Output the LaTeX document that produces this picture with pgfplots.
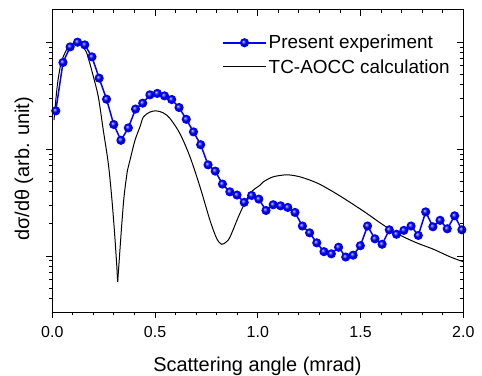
\documentclass[border=0pt]{standalone}
\usepackage{fontspec}
\setmainfont{Liberation Sans}
\usepackage{pgfplots}
\pgfplotsset{compat=1.18}
\pgfplotsset{
  myaxis/.style={
    scale only axis, width=411bp, height=302bp,
    xmin=0, xmax=2, ymin=0.003, ymax=2,
    xtick={0,0.5,1,1.5,2},
    minor xtick={0.1,0.2,0.3,0.4,0.6,0.7,0.8,0.9,1.1,1.2,1.3,1.4,1.6,1.7,1.8,1.9},
    ytick={0.01,0.1,1},
    minor ytick={0.004,0.005,0.006,0.007,0.008,0.009,0.02,0.03,0.04,0.05,0.06,0.07,0.08,0.09,0.2,0.3,0.4,0.5,0.6,0.7,0.8,0.9},
    yticklabels={},
    major tick length=6bp, minor tick length=3.5bp,
    axis line style={line width=1bp},
    every tick/.style={black, line width=1bp},
  }
}
\begin{document}
\begin{tikzpicture}
\begin{semilogyaxis}[
  myaxis, name=ax,
  tick align=outside, xtick pos=left, ytick pos=left,
  /pgf/number format/assume math mode=true,
  xticklabel style={/pgf/number format/fixed, /pgf/number format/fixed zerofill, /pgf/number format/precision=1, font=\fontsize{16}{19}\selectfont, yshift=-5bp},
  xlabel={Scattering angle (mrad)},
  ylabel={dσ/dθ (arb. unit)},
  label style={font=\fontsize{20}{24}\selectfont},
  xlabel style={at={(axis description cs:0.499,-0.181)}, anchor=center},
  ylabel style={at={(axis description cs:-0.0689,0.474)}, anchor=center},
  legend style={draw=none, fill=none, at={(axis description cs:0.413,0.924)}, anchor=north west,
    font=\fontsize{19}{22}\selectfont, row sep=5bp, inner sep=0pt},
  legend cell align=left,
  legend image code/.code={\draw[mark repeat=2, mark phase=2, #1] plot coordinates {(0bp,0bp) (21.5bp,0bp) (43bp,0bp)};},
]
\addplot[blue, line width=1.5bp, mark=ball, mark size=3.8bp, mark options={ball color=blue}] coordinates {
(0.017,0.228) (0.052,0.646) (0.087,0.904) (0.123,1.0) (0.158,0.944)
(0.193,0.729) (0.228,0.461) (0.264,0.293) (0.299,0.170) (0.334,0.121)
(0.370,0.158) (0.405,0.237) (0.440,0.269) (0.475,0.322) (0.511,0.332)
(0.546,0.315) (0.581,0.291) (0.617,0.245) (0.652,0.190) (0.687,0.145)
(0.722,0.110) (0.758,0.0713) (0.793,0.0623) (0.828,0.0471) (0.864,0.0399)
(0.899,0.0372) (0.934,0.0318) (0.970,0.0369) (1.005,0.0341) (1.040,0.0267)
(1.075,0.0302) (1.111,0.0295) (1.146,0.0285) (1.181,0.0256) (1.217,0.0191)
(1.252,0.0165) (1.287,0.0133) (1.322,0.0110) (1.358,0.0105) (1.393,0.0121)
(1.428,0.0098) (1.464,0.0102) (1.499,0.0125) (1.534,0.0191) (1.570,0.0145)
(1.605,0.0129) (1.640,0.0176) (1.675,0.0160) (1.711,0.0174) (1.746,0.0191)
(1.781,0.0156) (1.817,0.0259) (1.852,0.0188) (1.887,0.0216) (1.922,0.0180)
(1.958,0.0238) (1.993,0.0176)
};
\addlegendentry{Present experiment}
\addplot[black, line width=1bp, smooth] coordinates {
(0.0083,0.187) (0.018,0.300) (0.0277,0.441) (0.0438,0.650) (0.0681,0.842)
(0.0861,0.938) (0.109,0.985) (0.130,0.968) (0.148,0.904) (0.166,0.807)
(0.181,0.650) (0.198,0.492) (0.224,0.308) (0.248,0.151) (0.2725,0.0735)
(0.289,0.0358) (0.302,0.0175) (0.313,0.00855) (0.318,0.00575)
};
\addlegendentry{TC-AOCC calculation}
\addplot[black, line width=1bp, smooth, forget plot] coordinates {
(0.318,0.00575) (0.3246,0.00855) (0.336,0.0175) (0.349,0.0358) (0.366,0.0637)
(0.378,0.0789) (0.4024,0.121) (0.4268,0.162) (0.443,0.200) (0.475,0.222)
(0.5046,0.228) (0.5387,0.219) (0.5723,0.194) (0.621,0.140) (0.670,0.0848)
(0.7188,0.0444) (0.767,0.0217) (0.800,0.0146) (0.824,0.0129) (0.845,0.0135)
(0.865,0.0151) (0.913,0.0251) (0.962,0.0385) (1.011,0.0461) (1.027,0.0495)
(1.075,0.0551) (1.141,0.0575) (1.205,0.0551) (1.287,0.0484) (1.367,0.0399)
(1.449,0.0318) (1.530,0.0251) (1.611,0.0195) (1.692,0.0157) (1.773,0.0133)
(1.854,0.0116) (1.935,0.00985) (2.0,0.00885)
};
\end{semilogyaxis}
\begin{semilogyaxis}[
  myaxis, at={(ax.south west)}, anchor=south west,
  tick align=inside, xtick pos=right, ytick pos=right,
  xticklabels={},
]
\end{semilogyaxis}
\pgfresetboundingbox
\path[use as bounding box] ([shift={(-52.3bp,-64bp)}]ax.south west) rectangle ([shift={(18.7bp,10bp)}]ax.north east);
\end{tikzpicture}
\end{document}
